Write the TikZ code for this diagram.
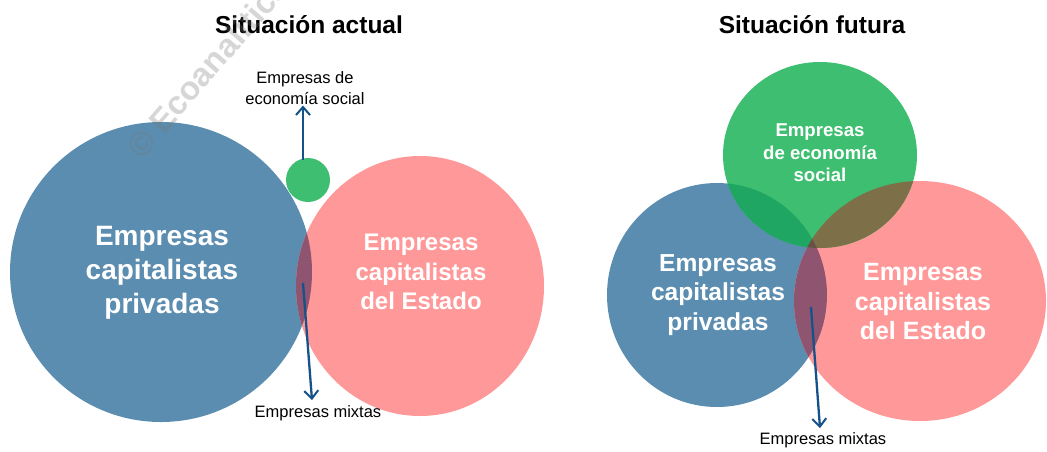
\documentclass[tikz,border=0pt]{standalone}
\usepackage{fontspec}
\setmainfont{Liberation Sans}
\usetikzlibrary{arrows.meta}
\definecolor{cblue}{RGB}{91,141,176}
\definecolor{cpink}{RGB}{255,153,153}
\definecolor{cgreen}{RGB}{62,190,112}
\definecolor{cmixbr}{RGB}{142,84,112}
\definecolor{cmixgb}{RGB}{30,166,98}
\definecolor{cmixgr}{RGB}{125,112,72}
\definecolor{cmixall}{RGB}{104,82,72}
\definecolor{carrow}{RGB}{22,82,138}
\definecolor{cwater}{RGB}{120,120,120}
\tikzset{
  arr/.style={draw=carrow, line width=2.3pt, -{Straight Barb[length=8pt,width=14pt,line width=2pt]}},
  intxt/.style={text=white, align=center, inner sep=0pt},
  smalltxt/.style={text=black, align=center, inner sep=1pt, font=\fontsize{16.5}{20.5}\selectfont},
  titletxt/.style={text=black, font=\fontsize{24.5}{29}\selectfont\bfseries},
}
\begin{document}
\begin{tikzpicture}[x=1pt,y=-1pt]
\useasboundingbox (0,0) rectangle (1047,451);
% ---------- left: situacion actual ----------
\fill[cblue] (161,272) ellipse [x radius=151pt, y radius=150pt];
\fill[cpink] (420,286) ellipse [x radius=124pt, y radius=130pt];
\begin{scope}
  \clip (161,272) ellipse [x radius=151pt, y radius=150pt];
  \fill[cmixbr] (420,286) ellipse [x radius=124pt, y radius=130pt];
\end{scope}
\node[circle, fill=cgreen, minimum size=44pt, inner sep=0pt] (gsmall) at (308,180) {};
\node[titletxt] (t1) at (309,25) {Situación actual};
\node[intxt, font=\fontsize{28}{34}\selectfont\bfseries] (tbl) at (162,273) {Empresas\\capitalistas\\privadas};
\node[intxt, font=\fontsize{24}{29.5}\selectfont\bfseries] (trl) at (421,272) {Empresas\\capitalistas\\del Estado};
\node[smalltxt] (les) at (305,88) {Empresas de\\economía social};
\node[smalltxt] (lmx1) at (318,413) {Empresas mixtas};
\coordinate (aup) at (303,160);
\draw[arr] (aup) -- (aup |- les.south);
\coordinate (m1) at (303,283);
\draw[arr] (m1) -- ([xshift=-6pt,yshift=4pt]lmx1.north);
% ---------- right: situacion futura ----------
\fill[cblue] (717,295) ellipse [x radius=110pt, y radius=112pt];
\fill[cpink] (920,301) ellipse [x radius=126pt, y radius=120pt];
\fill[cgreen] (820,155) ellipse [x radius=97pt, y radius=93pt];
\begin{scope}
  \clip (717,295) ellipse [x radius=110pt, y radius=112pt];
  \fill[cmixbr] (920,301) ellipse [x radius=126pt, y radius=120pt];
  \fill[cmixgb] (820,155) ellipse [x radius=97pt, y radius=93pt];
\end{scope}
\begin{scope}
  \clip (920,301) ellipse [x radius=126pt, y radius=120pt];
  \fill[cmixgr] (820,155) ellipse [x radius=97pt, y radius=93pt];
  \clip (717,295) ellipse [x radius=110pt, y radius=112pt];
  \fill[cmixall] (820,155) ellipse [x radius=97pt, y radius=93pt];
\end{scope}
\node[titletxt] (t2) at (812,25) {Situación futura};
\node[intxt, font=\fontsize{18.6}{22.5}\selectfont\bfseries] (tgr) at (820,153) {Empresas\\de economía\\social};
\node[intxt, font=\fontsize{24.6}{29.5}\selectfont\bfseries] (tbr) at (718,295) {Empresas\\capitalistas\\privadas};
\node[intxt, font=\fontsize{25}{29.5}\selectfont\bfseries] (trr) at (923,302) {Empresas\\capitalistas\\del Estado};
\node[smalltxt] (lmx2) at (823,440) {Empresas mixtas};
\coordinate (m2) at (811,307);
\draw[arr] (m2) -- ([xshift=-3pt,yshift=3pt]lmx2.north);
% ---------- watermark ----------
\node[text=cwater, opacity=0.3, font=\fontsize{33}{33}\selectfont\bfseries, rotate=49, anchor=west, inner sep=0pt] (wm) at (133,153) {© Ecoanalítica};
\end{tikzpicture}
\end{document}
